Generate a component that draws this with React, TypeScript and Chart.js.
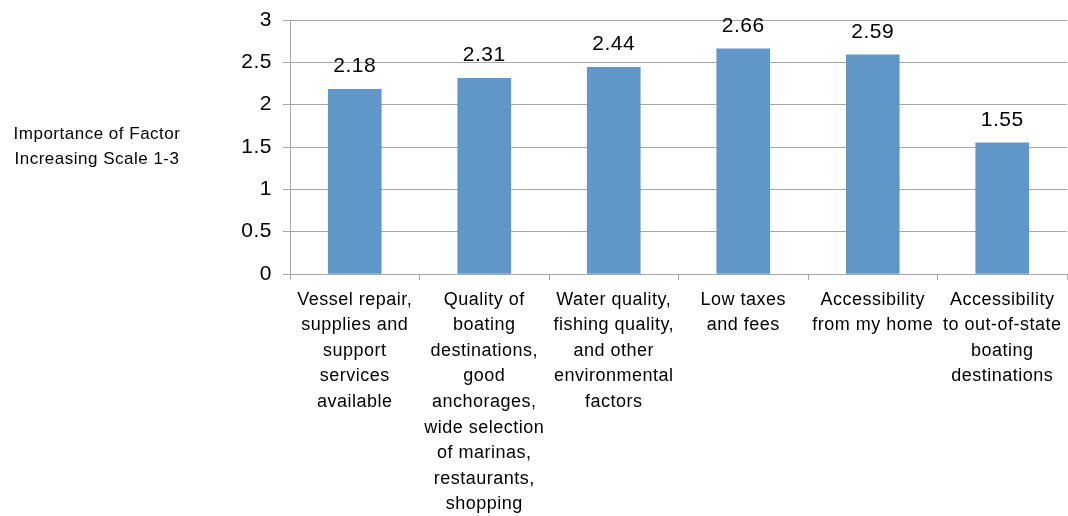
import React, { useEffect, useRef } from "react";
import { Chart, registerables } from "chart.js";

Chart.register(...registerables);

const categories: string[][] = [
  ["Vessel repair,", "supplies and", "support", "services", "available"],
  ["Quality of", "boating", "destinations,", "good", "anchorages,", "wide selection", "of marinas,", "restaurants,", "shopping"],
  ["Water quality,", "fishing quality,", "and other", "environmental", "factors"],
  ["Low taxes", "and fees"],
  ["Accessibility", "from my home"],
  ["Accessibility", "to out-of-state", "boating", "destinations"],
];
const importance: number[] = [2.18, 2.31, 2.44, 2.66, 2.59, 1.55];
const yAxisTitle: string[] = ["Importance of Factor", "Increasing Scale 1-3"];

const FONT = "'Liberation Sans', Arial, sans-serif";
const GRID = "#A6A6A6";

export default function App() {
  const ref = useRef<HTMLCanvasElement | null>(null);

  useEffect(() => {
    document.body.style.margin = "0";
    const canvas = ref.current;
    if (!canvas) return;

    const spacingPlugin = {
      id: "spacing",
      beforeLayout(chart: any) {
        chart.ctx.letterSpacing = "0.5px";
      },
      beforeDraw(chart: any) {
        chart.ctx.letterSpacing = "0.5px";
      },
    };

    const titlePlugin = {
      id: "ytitle",
      afterDraw(chart: any) {
        const ctx = chart.ctx;
        ctx.save();
        ctx.letterSpacing = "0.5px";
        ctx.font = `17px ${FONT}`;
        ctx.fillStyle = "#000";
        ctx.textAlign = "center";
        ctx.textBaseline = "middle";
        yAxisTitle.forEach((t, i) => ctx.fillText(t, 97, 134 + i * 25));
        ctx.restore();
      },
    };

    const valuePlugin = {
      id: "values",
      afterDatasetsDraw(chart: any) {
        const ctx = chart.ctx;
        const meta = chart.getDatasetMeta(0);
        ctx.save();
        ctx.letterSpacing = "0.5px";
        ctx.font = `21px ${FONT}`;
        ctx.fillStyle = "#000";
        ctx.textAlign = "center";
        ctx.textBaseline = "alphabetic";
        meta.data.forEach((bar: any, i: number) => {
          ctx.fillText(String(importance[i]), bar.x, bar.y - 17);
        });
        ctx.restore();
      },
    };

    const chart = new Chart(canvas, {
      type: "bar",
      data: {
        labels: categories,
        datasets: [
          {
            data: importance,
            backgroundColor: "#6096C8",
            borderWidth: 0,
            barThickness: 53,
          },
        ],
      },
      options: {
        animation: false,
        responsive: false,
        maintainAspectRatio: false,
        layout: { padding: { left: 200, top: 20, right: 1, bottom: 0 } },
        plugins: {
          legend: { display: false },
          tooltip: { enabled: false },
          title: { display: false },
        },
        scales: {
          x: {
            offset: true,
            grid: {
              offset: true,
              drawOnChartArea: false,
              drawTicks: true,
              tickLength: 6,
              color: GRID,
            },
            border: { display: true, color: GRID, width: 1 },
            ticks: {
              color: "#000",
              font: { family: FONT, size: 18, lineHeight: 1.42 },
              padding: 7,
              maxRotation: 0,
              minRotation: 0,
              autoSkip: false,
            },
            afterFit(scale: any) {
              scale.height = 242;
              scale.paddingLeft = 0;
              scale.paddingRight = 0;
            },
          },
          y: {
            min: 0,
            max: 3,
            grid: { color: GRID, tickLength: 7, drawTicks: true },
            border: { display: true, color: GRID, width: 1 },
            ticks: {
              stepSize: 0.5,
              color: "#000",
              font: { family: FONT, size: 21 },
              padding: 11,
              callback: (v: any) => String(v),
            },
            afterFit(scale: any) {
              scale.width = 90;
              scale.paddingTop = 0;
              scale.paddingBottom = 0;
            },
          },
        },
      },
      plugins: [spacingPlugin, titlePlugin, valuePlugin],
    });

    return () => chart.destroy();
  }, []);

  return (
    <canvas
      ref={ref}
      width={1068}
      height={516}
      style={{ display: "block", width: 1068, height: 516 }}
    />
  );
}
